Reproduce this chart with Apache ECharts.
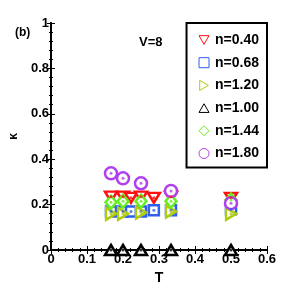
<!DOCTYPE html>
<html><head><meta charset="utf-8">
<script src="https://cdn.jsdelivr.net/npm/echarts@6/dist/echarts.min.js"></script>
<style>html,body{margin:0;padding:0;background:#fff}#c{width:291px;height:297px}</style>
</head><body><div id="c"></div>
<script>
const seriesNames = ['n=0.40','n=0.68','n=1.20','n=1.00','n=1.44','n=1.80'];
const T040 = [1/6, 1/5, 2/9, 1/4, 2/7, 1/3, 1/2];
const K040 = [0.235, 0.235, 0.23, 0.235, 0.23, 0.235, 0.23];
const T068 = [1/6, 1/5, 2/9, 1/4, 2/7, 1/3, 1/2];
const K068 = [0.17, 0.17, 0.17, 0.17, 0.175, 0.175, 0.18];
const T120 = [1/6, 1/5, 1/4, 1/3, 1/2];
const K120 = [0.16, 0.16, 0.165, 0.17, 0.16];
const T100 = [1/6, 1/5, 1/4, 1/3, 1/2];
const K100 = [0.0, 0.0, 0.0, 0.0, 0.0];
const T144 = [1/6, 1/5, 1/4, 1/3, 1/2];
const K144 = [0.21, 0.215, 0.215, 0.215, 0.22];
const T180 = [1/6, 1/5, 1/4, 1/3, 1/2];
const K180 = [0.338, 0.316, 0.294, 0.26, 0.206];
const xTicks = [0, 0.1, 0.2, 0.3, 0.4, 0.5, 0.6];
const yTicks = [0, 0.2, 0.4, 0.6, 0.8, 1];

const Ts = [T040, T068, T120, T100, T144, T180];
const Ks = [K040, K068, K120, K100, K144, K180];
const colors = ['#ff1010', '#2f5fee', '#b0cc10', '#000000', '#66ee22', '#b040ee'];
const symbols = [
  'path://M0,0 L10,0 L5,8.66 Z',
  'rect',
  'path://M0,0 L8.66,5 L0,10 Z',
  'path://M5,0 L10,8.66 L0,8.66 Z',
  'diamond',
  'circle'
];
const sizes = [[12,10],[10,10],[10,12],[12,10],[11,13],[12,12]];
const font = 'Liberation Sans, Arial, sans-serif';

const chart = echarts.init(document.getElementById('c'), null, {renderer:'canvas'});
const series = seriesNames.map((name, i) => ({
  name, type: 'scatter',
  data: Ts[i].map((t, j) => [t, Ks[i][j]]),
  symbol: symbols[i], symbolSize: sizes[i],
  itemStyle: { color: '#fff', borderColor: colors[i], borderWidth: 2.5, opacity: 1 },
  z: 3 + i
}));
seriesNames.forEach((name, i) => {
  series.push({
    name: name + '_dot', type: 'scatter',
    data: Ts[i].map((t, j) => [t, Ks[i][j]]),
    symbol: 'circle', symbolSize: 3,
    itemStyle: { color: colors[i], opacity: 0.8 },
    z: 10 + i, silent: true
  });
});

const axisCommon = {
  axisLine: { show: true, lineStyle: { color: '#000', width: 2 } },
  axisTick: { show: true, inside: true, length: 4, lineStyle: { color: '#000', width: 1 } },
  minorTick: { show: true, splitNumber: 5, length: 2, lineStyle: { color: '#000' } },
  splitLine: { show: false }
};

chart.setOption({
  animation: false,
  backgroundColor: '#fff',
  grid: { left: 47, right: 24, top: 23, bottom: 47, show: false },
  xAxis: [
    Object.assign({ type: 'value', min: 0, max: 0.6, interval: 0.1, position: 'bottom',
      name: 'T', nameLocation: 'middle', nameGap: 21,
      nameTextStyle: { fontFamily: font, fontWeight: 'bold', fontSize: 14, color: '#000' },
      axisLabel: { fontFamily: font, fontWeight: 'bold', fontSize: 13, color: '#000', margin: 3,
        formatter: v => xTicks.includes(Math.round(v*10)/10) ? String(Math.round(v*10)/10) : '' } }, axisCommon),
    Object.assign({ type: 'value', min: 0, max: 0.6, interval: 0.1, position: 'top',
      axisLabel: { show: false } }, axisCommon)
  ],
  yAxis: [
    Object.assign({ type: 'value', min: 0, max: 1, interval: 0.2, position: 'left',
      name: 'κ', nameLocation: 'middle', nameGap: 31, nameRotate: 90,
      nameTextStyle: { fontFamily: font, fontWeight: 'bold', fontSize: 12, color: '#000' },
      axisLabel: { fontFamily: font, fontWeight: 'bold', fontSize: 13, color: '#000', margin: 2,
        formatter: v => { const r = Math.round(v*10)/10; return yTicks.includes(r) ? String(r) : ''; } } }, axisCommon),
    Object.assign({ type: 'value', min: 0, max: 1, interval: 0.2, position: 'right',
      axisLabel: { show: false } }, axisCommon)
  ],
  legend: {
    data: seriesNames.map((n, i) => ({
      name: n, icon: symbols[i],
      itemStyle: { color: '#fff', borderColor: colors[i], borderWidth: 1 }
    })),
    orient: 'vertical', right: 24, top: 23,
    itemWidth: 10, itemHeight: 10, itemGap: 8.7,
    padding: [10, 8, 7, 12],
    backgroundColor: '#fff', borderColor: '#000', borderWidth: 2,
    textStyle: { fontFamily: font, fontWeight: 'bold', fontSize: 14, lineHeight: 14, color: '#000', padding: [0,0,0,1] },
    z: 20
  },
  graphic: [
    { type: 'text', left: 15, top: 27, style: { text: '(b)', font: 'bold 12px ' + font, fill: '#000' } },
    { type: 'text', left: 139, top: 36, style: { text: 'V=8', font: 'bold 13px ' + font, fill: '#000' } }
  ],
  series
});
</script></body></html>
